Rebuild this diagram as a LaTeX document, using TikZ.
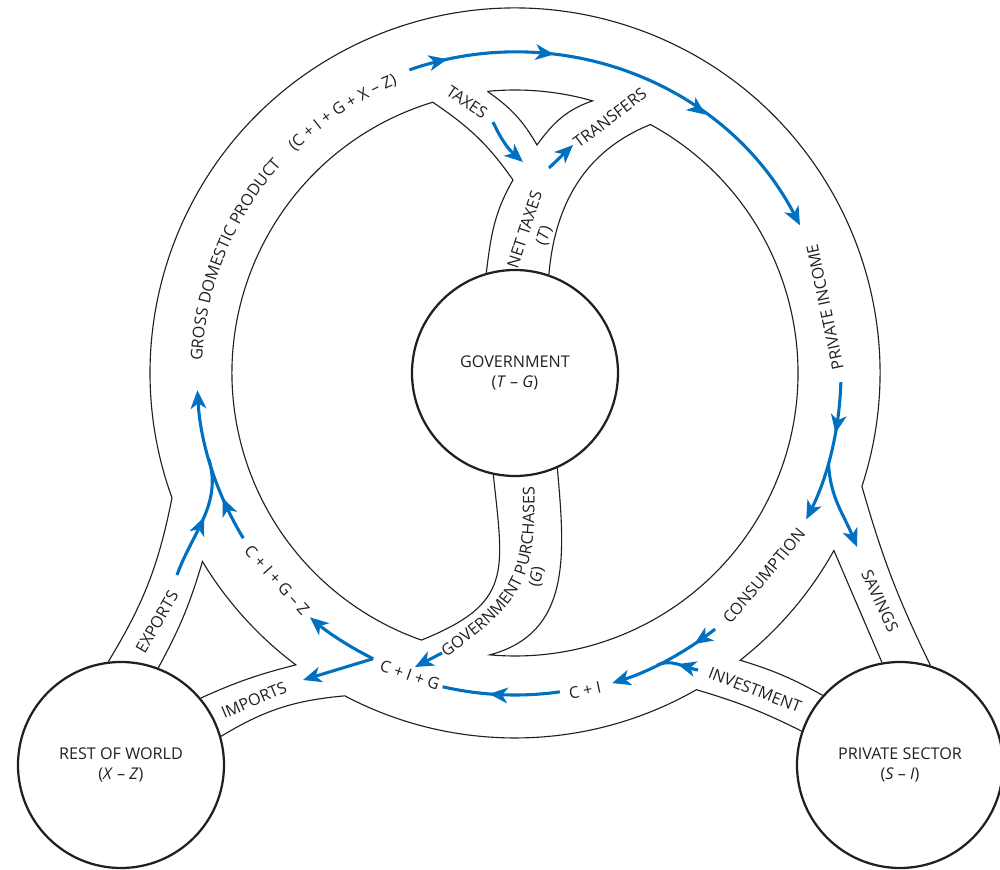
\documentclass[tikz,border=0pt]{standalone}
\usepackage{fontspec}
\setmainfont{Open Sans}
\usetikzlibrary{arrows.meta, calc, decorations.markings, decorations.text}
\definecolor{flowblue}{RGB}{0,112,192}
\definecolor{ink}{RGB}{35,31,32}
\newcommand{\lblfont}{\fontsize{11.5}{14}\selectfont}

\begin{document}
\begin{tikzpicture}[x=0.25mm, y=0.25mm, font=\lblfont, text=ink,
   >={Stealth[length=4.6mm, width=3.9mm, inset=1.3mm]},
   sector/.style={circle, draw=ink, line width=1.6pt, minimum size=51.5mm, inner sep=0pt, align=center},
   wall/.style={draw=ink, line width=0.8pt},
   flow/.style={draw=flowblue, line width=2.2pt},
   lbl/.style={inner sep=0pt, align=center},
   tips/.style={postaction={decorate, decoration={markings, mark=at position #1 with {\arrow{>}}}}},
   curved/.style={decorate, decoration={text along path, text align=center, text color=ink, text={|\lblfont|#1}}}]
   \useasboundingbox (-515,-497) rectangle (485,373);

   \node[sector] (gov) at (0,0) {GOVERNMENT\\(\textit{T} – \textit{G})};
   \node[sector] (row) at (-394,-392) {REST OF WORLD\\(\textit{X} – \textit{Z})};
   \node[sector] (pri) at (385,-392) {PRIVATE SECTOR\\(\textit{S} – \textit{I})};

   \coordinate (K) at (-2,193);
   \coordinate (L1) at (106.9:283);
   \coordinate (R1) at (61.4:283);
   \coordinate (I1) at (95.6:283);
   \coordinate (I3) at (22,228);
   \coordinate (S1) at (-18.1:365);
   \coordinate (S3) at (-51.9:365);
   \coordinate (E2) at (211.1:365);
   \coordinate (E4) at (242.2:365);

   \draw[wall] (gov.106) to[out=83, in=240] (K) to[out=125, in=-34] (L1)
      arc[start angle=106.9, end angle=250.7, radius=283] to[out=22, in=276, looseness=1.4] (gov.258);
   \draw[wall] (gov.71) to[out=85, in=202] (R1)
      arc[start angle=61.4, end angle=-95.1, radius=283] to[out=15, in=275, looseness=1.1] (gov.294);
   \draw[wall] (I1) arc[start angle=95.6, end angle=74.1, radius=283] to[out=199, in=54] (I3) to[out=120, in=-35] (I1);
   \draw[wall] (pri.73) to[bend left=5] (S1) arc[start angle=-18.1, end angle=200, radius=365] to[bend left=10] (row.97);
   \draw[wall] (row.69) to[bend right=6] (E2) arc[start angle=211.1, end angle=233.1, radius=365] to[bend right=5] (row.40);
   \draw[wall] (row.16) to[bend left=13] (E4) arc[start angle=242.2, end angle=299.8, radius=365] to[bend left=5] (pri.161);
   \draw[wall] (pri.138) to[bend right=6] (S3) arc[start angle=-51.9, end angle=-29.1, radius=365] -- (pri.100);

   \coordinate (gdp) at (109.2:321);
   \coordinate (tx1) at (-22,251);
   \coordinate (tx2) at (8,211);
   \coordinate (tr1) at (34,205);
   \coordinate (tr2) at (58,228);
   \coordinate (inc) at (-1.6:326);
   \coordinate (split) at (-15.9:326);
   \coordinate (sav) at (342,-174);
   \coordinate (con) at (-52:325);
   \coordinate (merge) at (-64.1:325);
   \coordinate (inv) at (183,-297);
   \coordinate (cpi) at (-82:322);
   \coordinate (gp1) at (-73,-280);
   \coordinate (gp2) at (-100,-294);
   \coordinate (cig) at (-116.4:319);
   \coordinate (imp) at (-212,-307);
   \coordinate (cigz) at (-148.7:318);
   \coordinate (join) at (-164.2:318);
   \coordinate (exp) at (-338,-202);

   \draw[flow, ->, tips=0.086, tips=0.32, tips=0.68] (gdp) arc[start angle=109.2, end angle=27.4, radius=321];
   \draw[flow, ->] (tx1) to[bend right=12] (tx2);
   \draw[flow, ->] (tr1) -- (tr2);
   \draw[flow, ->, tips=0.36] (inc) arc[start angle=-1.6, end angle=-26.7, radius=326];
   \draw[flow, ->] (split) to[out=-88, in=112] (sav);
   \draw[flow, ->, tips=0.22] (con) arc[start angle=-52, end angle=-72.6, radius=325];
   \draw[flow, tips=0.5] (inv) to[out=170, in=26] (merge);
   \draw[flow, tips=0.6] (cpi) arc[start angle=-82, end angle=-103, radius=322];
   \draw[flow, ->] (gp1) -- (gp2);
   \draw[flow, ->] (cig) arc[start angle=-116.4, end angle=-130, radius=319];
   \draw[flow, ->] (cig) -- (imp);
   \draw[flow, ->, tips=0.29] (cigz) arc[start angle=-148.7, end angle=-176.9, radius=318];
   \draw[flow, tips=0.52] (exp) to[out=70, in=-74] (join);

   \node[lbl, rotate=-34] (taxes) at (-48,271) {TAXES};
   \node[lbl, rotate=37] (transfers) at (95,255) {TRANSFERS};
   \node[lbl, rotate=72] (net) at (20,140) {NET TAXES\\(\textit{T})};
   \node[lbl, rotate=102] (income) at (310,66) {PRIVATE INCOME};
   \node[lbl, rotate=50] (cons) at (249,-203) {CONSUMPTION};
   \node[lbl, rotate=-65] (saving) at (365,-228) {SAVINGS};
   \node[lbl, rotate=-21] (invest) at (240,-317) {INVESTMENT};
   \node[lbl, rotate=12] (ci) at (70,-317) {C + I};
   \node[lbl, rotate=-19] (ciglbl) at (-105,-302) {C + I + G};
   \node[lbl, rotate=23] (imports) at (-261,-327) {IMPORTS};
   \node[lbl, rotate=60] (exports) at (-358,-249) {EXPORTS};
   \node[lbl, rotate=-48] (cigzlbl) at (-238,-207) {C + I + G – Z};
   \node[lbl, rotate=80] (g) at (22,-204) {(\textit{G})};

   \path[curved=GROSS DOMESTIC PRODUCT] (203:313) arc[start angle=203, end angle=113, radius=313];
   \path[curved=(C + I + G + X – Z)] (153.5:312) arc[start angle=153.5, end angle=93.5, radius=312];
   \path[curved=GOVERNMENT PURCHASES] (-80,-292) to[out=35, in=-88, looseness=1.3] (19,-100);
\end{tikzpicture}
\end{document}
